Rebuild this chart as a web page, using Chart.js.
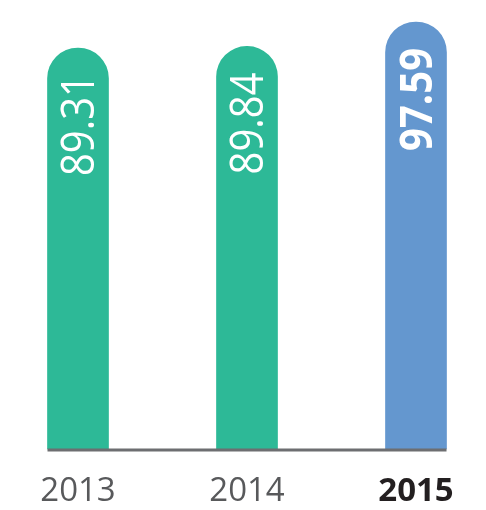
<!DOCTYPE html>
<html>
<head>
<meta charset="utf-8">
<script src="https://cdn.jsdelivr.net/npm/chart.js@4"></script>
<style>
  html, body { margin: 0; padding: 0; background: #fff; }
  #wrap { width: 486px; height: 510px; }
</style>
</head>
<body>
<div id="wrap"><canvas id="rateChart" width="486" height="510"></canvas></div>
<script>
// values
const years = ['2013', '2014', '2015'];
const rates = [89.31, 89.84, 97.59];
const barColors = ['#2db997', '#2db997', '#6497cf'];
const boldYear = '2015';
const axisFloor = -38; // the infographic does not start its bars at zero

// white rotated numbers inside each bar
const valueLabels = {
    id: 'valueLabels',
    afterDatasetsDraw(chart) {
        const ctx = chart.ctx;
        const meta = chart.getDatasetMeta(0);
        meta.data.forEach((bar, i) => {
            const bold = years[i] === boldYear;
            ctx.save();
            ctx.translate(bar.x, bar.y + 26);
            ctx.rotate(-Math.PI / 2);
            ctx.scale(1, 1.12); // the source art is a bit stretched sideways
            ctx.fillStyle = '#ffffff';
            ctx.font = (bold ? 'bold ' : '') + '40px "Open Sans"';
            ctx.textAlign = 'right';
            ctx.textBaseline = 'alphabetic';
            ctx.fillText(rates[i].toFixed(2), 0, 14);
            ctx.restore();
        });
    }
};

// grey base line running under all the bars
const baseLine = {
    id: 'baseLine',
    afterDatasetsDraw(chart) {
        const ctx = chart.ctx;
        const bars = chart.getDatasetMeta(0).data;
        const first = bars[0], last = bars[bars.length - 1];
        const left = first.x - first.width / 2;
        const right = last.x + last.width / 2;
        ctx.save();
        ctx.fillStyle = '#6d6e71';
        ctx.fillRect(left, chart.chartArea.bottom - 0.5, right - left, 3);
        ctx.restore();
    }
};

const ctx = document.getElementById('rateChart').getContext('2d');
new Chart(ctx, {
    type: 'bar',
    data: {
        labels: years,
        datasets: [{
            data: rates,
            base: axisFloor,
            backgroundColor: barColors,
            barThickness: 61,
            borderRadius: 31,
            borderSkipped: 'start',
            clip: false
        }]
    },
    options: {
        responsive: false,
        animation: false,
        devicePixelRatio: 1,
        layout: { padding: { left: 78, right: 70, top: 22, bottom: 0 } },
        plugins: {
            legend: { display: false },
            tooltip: { enabled: false }
        },
        scales: {
            x: {
                offset: false,
                grid: { display: false, drawTicks: false },
                border: { display: false },
                afterFit: scale => { scale.height = 61; },
                ticks: {
                    padding: 23,
                    maxRotation: 0,
                    autoSkip: false,
                    color: c => years[c.index] === boldYear ? '#231f20' : '#58595b',
                    font: c => ({
                        family: '"Open Sans"',
                        size: 33,
                        weight: years[c.index] === boldYear ? 'bold' : 'normal'
                    })
                }
            },
            y: {
                display: false,
                min: axisFloor,
                max: Math.max(...rates)
            }
        }
    },
    plugins: [valueLabels, baseLine]
});
</script>
</body>
</html>
